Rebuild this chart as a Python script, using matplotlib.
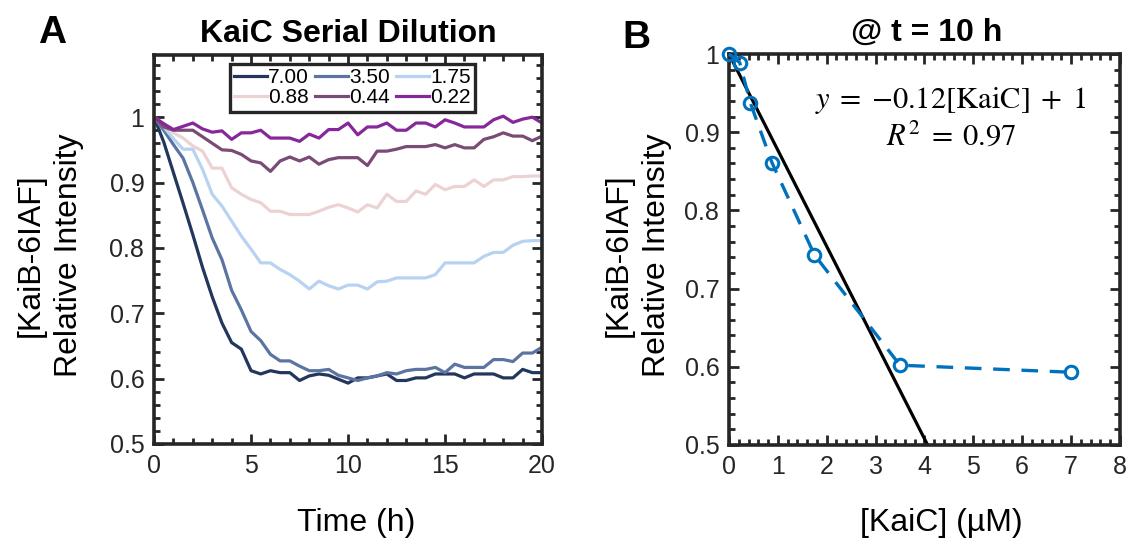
import matplotlib
matplotlib.use("Agg")
import matplotlib.pyplot as plt
from matplotlib.ticker import MultipleLocator

plt.rcParams['font.family'] = ['Liberation Sans', 'DejaVu Sans']
plt.rcParams['mathtext.fontset'] = 'stix'

# ---- panel A data: relative intensity vs time, one series per KaiC conc (uM)
time_h = [0, 0.5, 1, 1.5, 2, 2.5, 3, 3.5, 4, 4.5, 5, 5.5, 6, 6.5, 7, 7.5, 8, 8.5,
          9, 9.5, 10, 10.5, 11, 11.5, 12, 12.5, 13, 13.5, 14, 14.5, 15, 15.5, 16,
          16.5, 17, 17.5, 18, 18.5, 19, 19.5, 20]

kaic_7_00 = [1.0, 0.962, 0.915, 0.868, 0.82, 0.77, 0.725, 0.685, 0.655, 0.645, 0.612,
             0.607, 0.612, 0.609, 0.609, 0.597, 0.604, 0.607, 0.605, 0.599, 0.593, 0.601,
             0.601, 0.604, 0.607, 0.597, 0.597, 0.601, 0.601, 0.607, 0.607, 0.607, 0.601,
             0.607, 0.607, 0.607, 0.601, 0.601, 0.614, 0.609, 0.609]
kaic_3_50 = [1.0, 0.98, 0.958, 0.937, 0.9, 0.858, 0.815, 0.782, 0.735, 0.705, 0.672,
             0.658, 0.637, 0.627, 0.627, 0.619, 0.612, 0.612, 0.614, 0.605, 0.601, 0.597,
             0.601, 0.604, 0.609, 0.607, 0.612, 0.614, 0.614, 0.617, 0.609, 0.622, 0.617,
             0.617, 0.617, 0.629, 0.629, 0.626, 0.639, 0.639, 0.648]
kaic_1_75 = [1.0, 0.985, 0.967, 0.951, 0.951, 0.92, 0.882, 0.864, 0.841, 0.818, 0.798,
             0.777, 0.777, 0.767, 0.759, 0.749, 0.737, 0.749, 0.742, 0.737, 0.743, 0.743,
             0.737, 0.748, 0.749, 0.754, 0.754, 0.754, 0.754, 0.759, 0.777, 0.777, 0.777,
             0.777, 0.787, 0.793, 0.793, 0.804, 0.81, 0.811, 0.811]
kaic_0_88 = [1.0, 0.99, 0.976, 0.968, 0.956, 0.948, 0.922, 0.922, 0.892, 0.882, 0.874,
             0.869, 0.856, 0.856, 0.851, 0.851, 0.851, 0.856, 0.862, 0.866, 0.861, 0.855,
             0.866, 0.861, 0.882, 0.871, 0.871, 0.887, 0.882, 0.897, 0.889, 0.894, 0.894,
             0.904, 0.894, 0.904, 0.904, 0.909, 0.909, 0.91, 0.91]
kaic_0_44 = [1.0, 0.985, 0.98, 0.98, 0.98, 0.97, 0.96, 0.95, 0.949, 0.943, 0.933,
             0.93, 0.917, 0.933, 0.939, 0.933, 0.939, 0.928, 0.935, 0.938, 0.938, 0.938,
             0.926, 0.948, 0.948, 0.951, 0.955, 0.955, 0.955, 0.958, 0.953, 0.958, 0.953,
             0.953, 0.966, 0.97, 0.976, 0.971, 0.971, 0.964, 0.971]
kaic_0_22 = [1.0, 0.99, 0.981, 0.986, 0.991, 0.982, 0.977, 0.979, 0.966, 0.976, 0.976,
             0.98, 0.968, 0.968, 0.968, 0.963, 0.974, 0.968, 0.981, 0.981, 0.991, 0.973,
             0.985, 0.985, 0.991, 0.98, 0.98, 0.991, 0.991, 0.985, 0.996, 0.991, 0.985,
             0.985, 0.985, 0.996, 1.0015, 0.992, 0.997, 1.0, 0.991]

series_labels = ['7.00', '3.50', '1.75', '0.88', '0.44', '0.22']
series_values = [kaic_7_00, kaic_3_50, kaic_1_75, kaic_0_88, kaic_0_44, kaic_0_22]
series_colors = ['#22365e', '#5c74a2', '#b7d3f1', '#ecd3d3', '#7a4b75', '#86289a']

# ---- panel B data: intensity at t = 10 h vs KaiC
kaic_conc = [0, 0.22, 0.44, 0.88, 1.75, 3.5, 7]
intensity_10h = [1.0, 0.989, 0.937, 0.861, 0.743, 0.602, 0.593]
fit_slope = -0.123
fit_intercept = 1.0
fit_x = [0, 8]

ink = '#262626'


def style_axes(ax):
    for s in ax.spines.values():
        s.set_linewidth(2.6)
        s.set_color(ink)
    ax.tick_params(which='both', direction='in', top=True, right=True,
                   color=ink, labelcolor=ink, labelsize=18)
    ax.tick_params(which='major', length=7, width=2, pad=7)
    ax.tick_params(which='minor', length=4, width=2)


fig = plt.figure(figsize=(11.26, 5.40), dpi=100)

# ---------------- panel A
axA = fig.add_axes([0.1368, 0.178, 0.3446, 0.720])
for lab, vals, col in zip(series_labels, series_values, series_colors):
    axA.plot(time_h, vals, color=col, lw=2.3, label=lab)
axA.set_xlim(0, 20)
axA.set_ylim(0.5, 1.095)
axA.set_xticks([0, 5, 10, 15, 20])
axA.set_yticks([0.5, 0.6, 0.7, 0.8, 0.9, 1.0])
axA.set_yticklabels(['0.5', '0.6', '0.7', '0.8', '0.9', '1'])
axA.xaxis.set_minor_locator(MultipleLocator(1))
axA.yaxis.set_minor_locator(MultipleLocator(0.02))
style_axes(axA)

# legend filled row-wise like the original (3 columns)
h, l = axA.get_legend_handles_labels()
order = [0, 3, 1, 4, 2, 5]
leg = axA.legend([h[i] for i in order], [l[i] for i in order], ncol=3,
                 loc='upper center', bbox_to_anchor=(0.512, 0.978),
                 fontsize=15, handlelength=1.55, handletextpad=0.08,
                 columnspacing=0.3, borderpad=0.2, labelspacing=0.08,
                 frameon=True, fancybox=False, framealpha=1, borderaxespad=0)
leg.get_frame().set_edgecolor(ink)
leg.get_frame().set_linewidth(2.4)

axA.set_ylabel('[KaiB-6IAF]\nRelative Intensity', fontsize=23, linespacing=1.35,
               va='center', ha='center')
axA.yaxis.set_label_coords(-0.268, 0.486)
axA.set_xlabel('Time (h)', fontsize=23, va='center')
axA.xaxis.set_label_coords(0.52, -0.203)

# ---------------- panel B
axB = fig.add_axes([0.6474, 0.176, 0.3472, 0.724])
axB.plot(fit_x, [fit_intercept + fit_slope * x for x in fit_x], color='black', lw=2.3)
axB.plot(kaic_conc, intensity_10h, color='#0072BD', lw=2.4, ls=(0, (5, 3.5)),
         marker='o', ms=9, mfc='none', mew=2.2, clip_on=False, zorder=3)
axB.set_xlim(0, 8)
axB.set_ylim(0.5, 1.0)
axB.set_xticks(range(0, 9))
axB.set_yticks([0.5, 0.6, 0.7, 0.8, 0.9, 1.0])
axB.set_yticklabels(['0.5', '0.6', '0.7', '0.8', '0.9', '1'])
axB.xaxis.set_minor_locator(MultipleLocator(0.2))
axB.yaxis.set_minor_locator(MultipleLocator(0.02))
style_axes(axB)

axB.text(0.568, 0.882, r'$y\;=\;{-}0.12[\mathrm{KaiC}]\;+\;1$', transform=axB.transAxes,
         ha='center', va='center', fontsize=22, color='black')
axB.text(0.568, 0.788, r'$R^2\;=\;0.97$', transform=axB.transAxes,
         ha='center', va='center', fontsize=22, color='black')

axB.set_ylabel('[KaiB-6IAF]\nRelative Intensity', fontsize=23, linespacing=1.35,
               va='center', ha='center')
axB.yaxis.set_label_coords(-0.232, 0.486)
axB.set_xlabel('[KaiC] (µM)', fontsize=23, va='center')
axB.xaxis.set_label_coords(0.542, -0.2)

# titles and panel letters
fig.text(348 / 1126, 1 - 34 / 540, 'KaiC Serial Dilution', fontsize=23,
         fontweight='bold', ha='center', va='center')
fig.text(927 / 1126, 1 - 33 / 540, '@ t = 10 h', fontsize=23,
         fontweight='bold', ha='center', va='center')
fig.text(52 / 1126, 1 - 33 / 540, 'A', fontsize=28, fontweight='bold',
         ha='center', va='center')
fig.text(636 / 1126, 1 - 38 / 540, 'B', fontsize=28, fontweight='bold',
         ha='center', va='center')

fig.savefig('out.png', dpi=100)
